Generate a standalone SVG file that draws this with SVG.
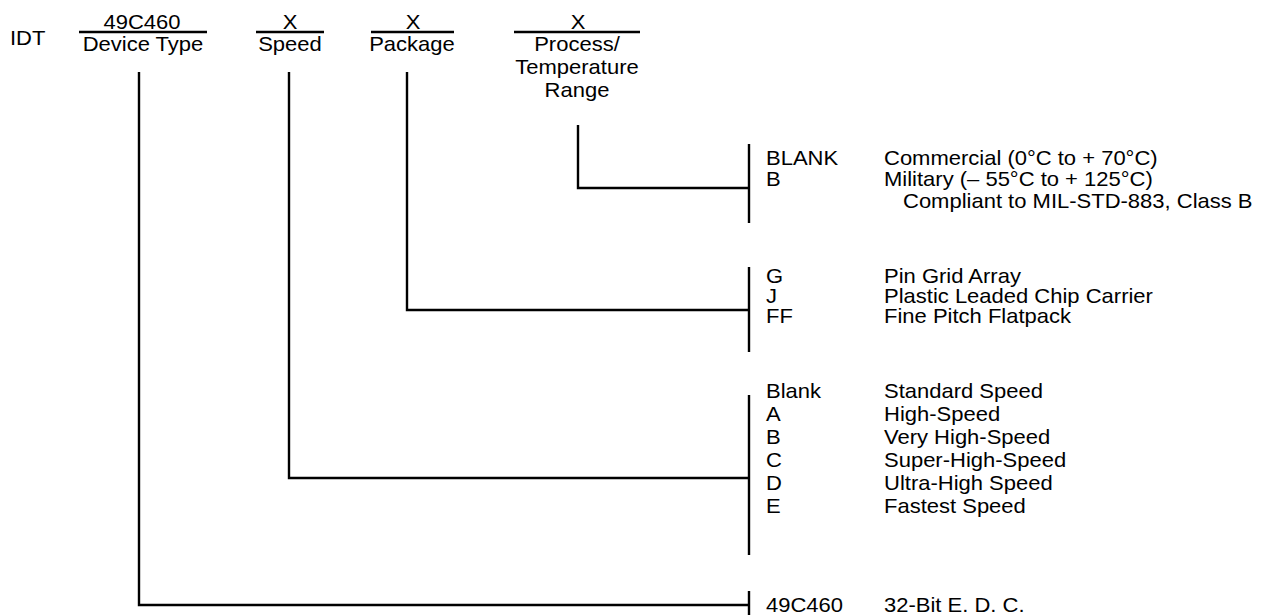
<svg xmlns="http://www.w3.org/2000/svg" width="1263" height="615" viewBox="0 0 1263 615">
<style>
text{font-family:"Liberation Sans",Arial,sans-serif;font-size:20px;fill:#000;transform-box:fill-box;transform-origin:0 0;transform:scaleX(1.1)}
text.c{text-anchor:middle;transform-origin:50% 0}
.ln{stroke:#000;stroke-width:2.4;fill:none}
</style>
<rect width="1263" height="615" fill="#fff"/>
<g id="header">
<text x="10" y="45">IDT</text>
</g>
<g id="device-type">
<text class="c" x="142" y="29">49C460</text>
<line class="ln" x1="79" y1="32" x2="207" y2="32"/>
<text class="c" x="143" y="51">Device Type</text>
</g>
<g id="speed">
<text class="c" x="290" y="29">X</text>
<line class="ln" x1="256" y1="32" x2="324" y2="32"/>
<text class="c" x="290" y="51">Speed</text>
</g>
<g id="package">
<text class="c" x="413" y="29">X</text>
<line class="ln" x1="371" y1="32" x2="454" y2="32"/>
<text class="c" x="412" y="51">Package</text>
</g>
<g id="process">
<text class="c" x="578" y="29">X</text>
<line class="ln" x1="514" y1="32" x2="640" y2="32"/>
<text class="c" x="577" y="51">Process/</text>
<text class="c" x="577" y="74">Temperature</text>
<text class="c" x="577" y="97">Range</text>
</g>
<g id="connectors">
<polyline class="ln" points="578,125 578,188 749,188"/>
<polyline class="ln" points="407,72 407,310 749,310"/>
<polyline class="ln" points="289,72 289,478 749,478"/>
<polyline class="ln" points="139,72 139,605 749,605"/>
</g>
<g id="process-options">
<line class="ln" x1="749" y1="144" x2="749" y2="223"/>
<text x="766" y="165">BLANK</text>
<text x="766" y="186">B</text>
<text x="884" y="165">Commercial (0°C to + 70°C)</text>
<text x="884" y="186">Military (– 55°C to + 125°C)</text>
<text x="903" y="208">Compliant to MIL-STD-883, Class B</text>
</g>
<g id="package-options">
<line class="ln" x1="749" y1="267" x2="749" y2="352"/>
<text x="766" y="283">G</text>
<text x="766" y="303">J</text>
<text x="766" y="323">FF</text>
<text x="884" y="283">Pin Grid Array</text>
<text x="884" y="303">Plastic Leaded Chip Carrier</text>
<text x="884" y="323">Fine Pitch Flatpack</text>
</g>
<g id="speed-options">
<line class="ln" x1="749" y1="395" x2="749" y2="555"/>
<text x="766" y="398">Blank</text>
<text x="766" y="421">A</text>
<text x="766" y="444">B</text>
<text x="766" y="467">C</text>
<text x="766" y="490">D</text>
<text x="766" y="513">E</text>
<text x="884" y="398">Standard Speed</text>
<text x="884" y="421">High-Speed</text>
<text x="884" y="444">Very High-Speed</text>
<text x="884" y="467">Super-High-Speed</text>
<text x="884" y="490">Ultra-High Speed</text>
<text x="884" y="513">Fastest Speed</text>
</g>
<g id="device-options">
<line class="ln" x1="749" y1="591" x2="749" y2="615"/>
<text x="766" y="612">49C460</text>
<text x="884" y="612">32-Bit E. D. C.</text>
</g>
</svg>
